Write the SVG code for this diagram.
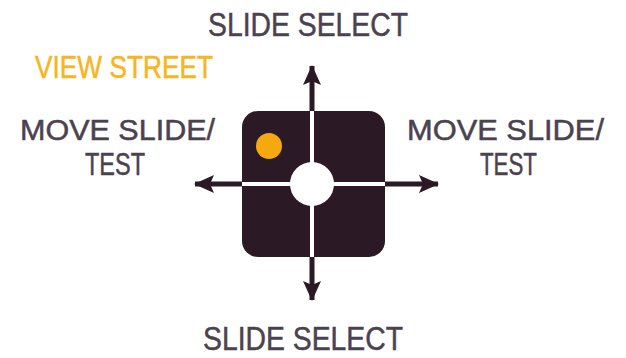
<svg xmlns="http://www.w3.org/2000/svg" width="626" height="358" viewBox="0 0 626 358">
<style>
.lbl{font-family:"Liberation Sans",Arial,sans-serif;font-size:33px;fill:#4b4250;stroke:#4b4250;stroke-width:0.5;}
.sm{font-size:29px;}
.md{font-size:31px;}
.hl{fill:#f6b521;stroke:#f6b521;font-size:31px;}
.shaft{stroke:#2b1a26;stroke-width:5;fill:none;}
.sep{stroke:#ffffff;stroke-width:4;}
</style>
<defs>
<marker id="ah" viewBox="0 0 20 18" refX="19" refY="9" markerWidth="20" markerHeight="18" markerUnits="userSpaceOnUse" orient="auto-start-reverse">
<path d="M0,0 L20,9 L0,18 L4,9 Z" fill="#2b1a26"/>
</marker>
</defs>
<g id="connectors">
<line class="shaft" x1="312" y1="66" x2="312" y2="300" marker-start="url(#ah)" marker-end="url(#ah)"/>
<line class="shaft" x1="195" y1="184" x2="438" y2="184" marker-start="url(#ah)" marker-end="url(#ah)"/>
</g>
<g id="pad">
<rect x="242" y="111" width="143" height="146" rx="16" fill="#2b1a26"/>
<line class="sep" x1="312" y1="111" x2="312" y2="257"/>
<line class="sep" x1="242" y1="184" x2="385" y2="184"/>
<circle cx="312" cy="184" r="22" fill="#ffffff"/>
<circle cx="269" cy="146" r="13" fill="#f6a80f"/>
</g>
<g id="label-top"><text class="lbl" x="208" y="36" textLength="200" lengthAdjust="spacingAndGlyphs">SLIDE SELECT</text></g>
<g id="label-view"><text class="lbl hl" x="35" y="78" textLength="178" lengthAdjust="spacingAndGlyphs">VIEW STREET</text></g>
<g id="label-left">
<text class="lbl sm" x="20" y="140" textLength="195" lengthAdjust="spacingAndGlyphs">MOVE SLIDE/</text>
<text class="lbl md" x="85" y="175" textLength="60" lengthAdjust="spacingAndGlyphs">TEST</text>
</g>
<g id="label-right">
<text class="lbl sm" x="407" y="140" textLength="197" lengthAdjust="spacingAndGlyphs">MOVE SLIDE/</text>
<text class="lbl md" x="480" y="175" textLength="57" lengthAdjust="spacingAndGlyphs">TEST</text>
</g>
<g id="label-bottom"><text class="lbl" x="203" y="350" textLength="200" lengthAdjust="spacingAndGlyphs">SLIDE SELECT</text></g>
</svg>
